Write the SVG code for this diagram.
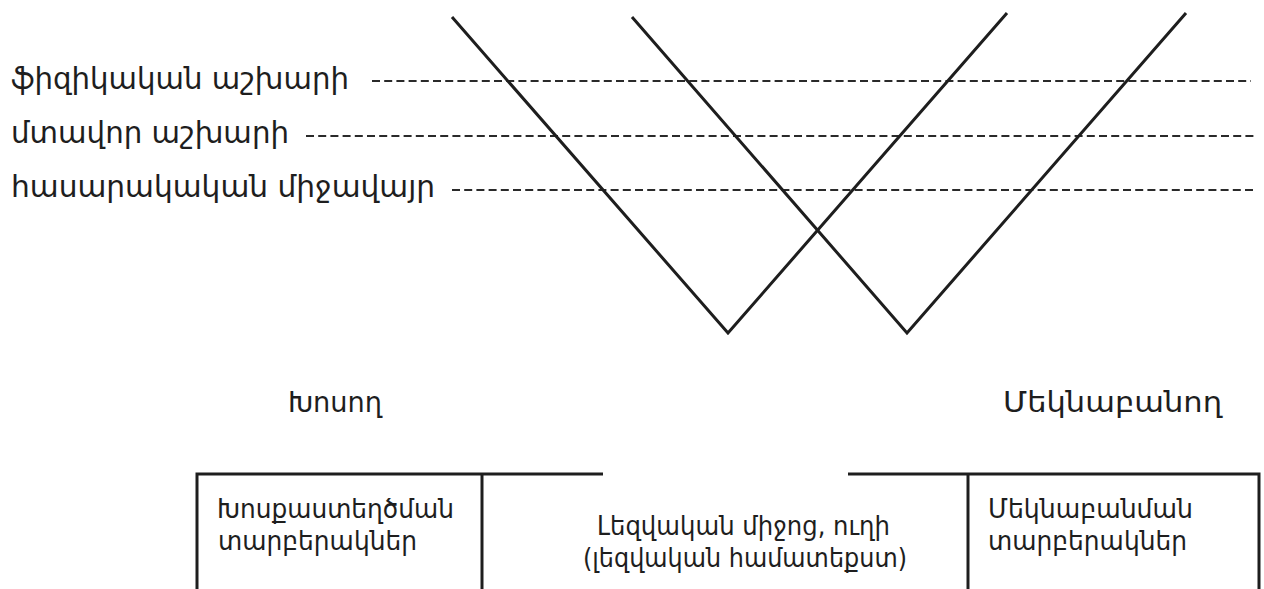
<svg xmlns="http://www.w3.org/2000/svg" width="1264" height="589" viewBox="0 0 1264 589">
  <style>
    .bg { fill: #ffffff; }
    .t { font-family: "DejaVu Sans", "Noto Sans", sans-serif; fill: #1e1e1e; }
    .lvl { font-size: 30px; }
    .who { font-size: 29px; }
    .box { font-size: 26px; }
    .dash { stroke: #2a2a2a; stroke-width: 2; stroke-dasharray: 8 4.2; fill: none; }
    .v { stroke: #1e1e1e; stroke-width: 3; fill: none; stroke-linejoin: miter; }
    .frame { stroke: #1e1e1e; stroke-width: 3; fill: none; }
  </style>
  <rect class="bg" x="0" y="0" width="1264" height="589"/>

  <g id="level-physical">
    <text class="t lvl" x="11" y="89" textLength="338" lengthAdjust="spacingAndGlyphs">ֆիզիկական աշխարի</text>
  </g>
  <g id="level-mental">
    <text class="t lvl" x="11" y="143" textLength="278" lengthAdjust="spacingAndGlyphs">մտավոր աշխարի</text>
  </g>
  <g id="level-social">
    <text class="t lvl" x="11" y="197" textLength="424" lengthAdjust="spacingAndGlyphs">հասարակական միջավայր</text>
  </g>

  <g id="speaker">
    <text class="t who" x="288" y="412" textLength="94" lengthAdjust="spacingAndGlyphs">Խոսող</text>
  </g>
  <g id="interpreter">
    <text class="t who" x="1003" y="412" textLength="219" lengthAdjust="spacingAndGlyphs">Մեկնաբանող</text>
  </g>

  <g id="connectors">
    <line class="dash" x1="372" y1="81" x2="1251" y2="81"/>
    <line class="dash" x1="306" y1="136" x2="1256" y2="136"/>
    <line class="dash" x1="452" y1="190" x2="1256" y2="190"/>
    <polyline class="v" points="452,17 728,333 1007,13"/>
    <polyline class="v" points="632,17 907,333 1186,13"/>
  </g>

  <g id="frame">
    <polyline class="frame" points="197,589 197,474 603,474"/>
    <line class="frame" x1="482" y1="474" x2="482" y2="589"/>
    <polyline class="frame" points="848,474 1259,474 1259,589"/>
    <line class="frame" x1="968" y1="474" x2="968" y2="589"/>
  </g>

  <g id="speech-variants">
    <text class="t box" x="217" y="518" textLength="237" lengthAdjust="spacingAndGlyphs">Խոսքաստեղծման</text>
    <text class="t box" x="218" y="550" textLength="199" lengthAdjust="spacingAndGlyphs">տարբերակներ</text>
  </g>
  <g id="language-means">
    <text class="t box" x="597" y="535" textLength="293" lengthAdjust="spacingAndGlyphs">Լեզվական միջոց, ուղի</text>
    <text class="t box" x="583" y="567" textLength="324" lengthAdjust="spacingAndGlyphs">(լեզվական համատեքստ)</text>
  </g>
  <g id="interpretation-variants">
    <text class="t box" x="988" y="518" textLength="205" lengthAdjust="spacingAndGlyphs">Մեկնաբանման</text>
    <text class="t box" x="988" y="550" textLength="199" lengthAdjust="spacingAndGlyphs">տարբերակներ</text>
  </g>
</svg>
